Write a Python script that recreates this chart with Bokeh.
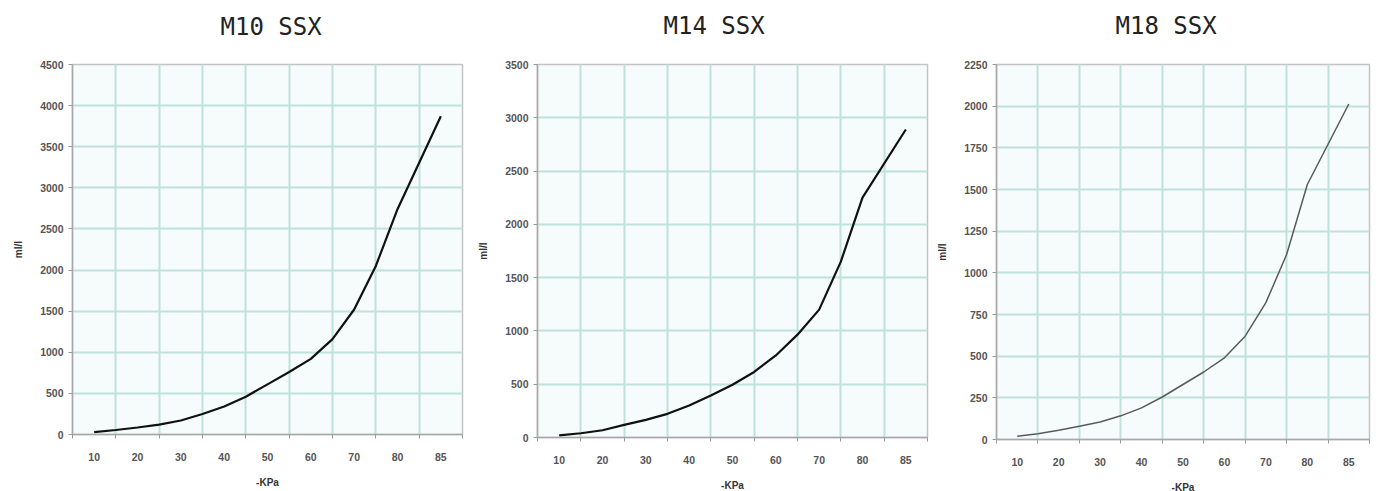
import numpy as np
from bokeh.plotting import figure
from bokeh.layouts import row
from bokeh.models import FixedTicker, Title
from bokeh.embed import file_html
from bokeh.resources import INLINE

# ---- data ----
x_labels = ["10", "20", "30", "40", "50", "60", "70", "80", "85"]
x_label_kpa = [10, 20, 30, 40, 50, 60, 70, 80, 85]

kpa = [10, 15, 20, 25, 30, 35, 40, 45, 50, 55, 60, 65, 70, 75, 80, 85]

m10_title = "M10 SSX"
m10_vals = [30, 55, 85, 120, 170, 250, 340, 460, 610, 760, 920, 1160, 1520, 2050, 2740, 3870]
m10_ymax, m10_ystep = 4500, 500

m14_title = "M14 SSX"
m14_vals = [20, 40, 68, 118, 165, 222, 300, 395, 495, 615, 770, 965, 1200, 1650, 2250, 2890]
m14_ymax, m14_ystep = 3500, 500

m18_title = "M18 SSX"
m18_vals = [20, 35, 55, 80, 105, 142, 190, 255, 330, 405, 490, 620, 821, 1110, 1530, 2013]
m18_ymax, m18_ystep = 2250, 250

x_axis_label = "-KPa"
y_axis_label = "ml/l"

GRID = "#bfe2da"
TICKC = "#555555"


def make(title, vals, ymax, ystep, frame_w, frame_h, b_left, b_right, b_top,
         b_bottom, line_color, line_width, title_offset, spacer_gap):
    n = len(x_labels)
    centers = np.arange(n) + 0.5
    xpos = np.interp(kpa, x_label_kpa, centers)
    p = figure(frame_width=frame_w, frame_height=frame_h,
               x_range=(0, n), y_range=(0, ymax), title=None,
               output_backend="svg", toolbar_location=None,
               min_border_left=b_left, min_border_right=b_right,
               min_border_top=b_top, min_border_bottom=b_bottom)
    p.background_fill_color = "#f6fcfb"
    p.border_fill_color = "white"
    p.outline_line_color = "#c4c4c4"
    p.outline_line_width = 1.5

    spacer = Title(text=" ", text_font_size="1px", standoff=spacer_gap,
                   text_color="white")
    p.add_layout(spacer, "above")
    t = Title(text=title, align="left", text_font="DejaVu Sans Mono",
              text_font_size="24px", text_font_style="normal",
              text_color="#222222", standoff=4, offset=title_offset)
    p.add_layout(t, "above")

    p.line(xpos, vals, line_color=line_color, line_width=line_width)

    # x axis (category style)
    xt = FixedTicker(ticks=list(centers), minor_ticks=list(range(n + 1)))
    p.xaxis.ticker = xt
    p.xaxis.major_label_overrides = {float(c): lab for c, lab in zip(centers, x_labels)}
    p.xaxis.major_tick_line_color = None
    p.xaxis.minor_tick_in = 0
    p.xaxis.minor_tick_out = 4
    p.xaxis.minor_tick_line_color = "#999999"
    p.xaxis.major_label_standoff = 12
    p.xaxis.axis_label = x_axis_label
    p.xaxis.axis_label_standoff = 13

    yt = FixedTicker(ticks=list(range(0, ymax + 1, ystep)), minor_ticks=[])
    p.yaxis.ticker = yt
    p.yaxis.major_tick_in = 0
    p.yaxis.major_tick_out = 4
    p.yaxis.major_tick_line_color = "#999999"
    p.yaxis.axis_label = y_axis_label
    p.yaxis.axis_label_standoff = 13
    p.yaxis.major_label_standoff = 5

    for ax in (p.xaxis, p.yaxis):
        ax.axis_line_color = "#a8a8a8"
        ax.axis_line_width = 1.5
        ax.major_label_text_font = "Liberation Sans"
        ax.major_label_text_font_size = "10.5px"
        ax.major_label_text_font_style = "bold"
        ax.major_label_text_color = TICKC
        ax.axis_label_text_font = "Liberation Sans"
        ax.axis_label_text_font_size = "10px"
        ax.axis_label_text_font_style = "bold"
        ax.axis_label_text_color = "#333333"

    p.xgrid.ticker = FixedTicker(ticks=list(range(1, n)))
    p.ygrid.ticker = yt
    for g in (p.xgrid, p.ygrid):
        g.grid_line_color = GRID
        g.grid_line_width = 2
    return p


p1 = make(m10_title, m10_vals, m10_ymax, m10_ystep, 390, 370, 72, 13, 64, 53,
          "#111111", 2.2, 148, 19)
p2 = make(m14_title, m14_vals, m14_ymax, m14_ystep, 390, 373, 58, 7, 61, 53,
          "#111111", 2.2, 126, 20)
p3 = make(m18_title, m18_vals, m18_ymax, m18_ystep, 373, 375, 50, 2, 61, 51,
          "#5a5a5a", 1.5, 119, 20)

layout = row(p1, p2, p3, spacing=0)
open("out.html", "w").write(file_html(layout, INLINE))
